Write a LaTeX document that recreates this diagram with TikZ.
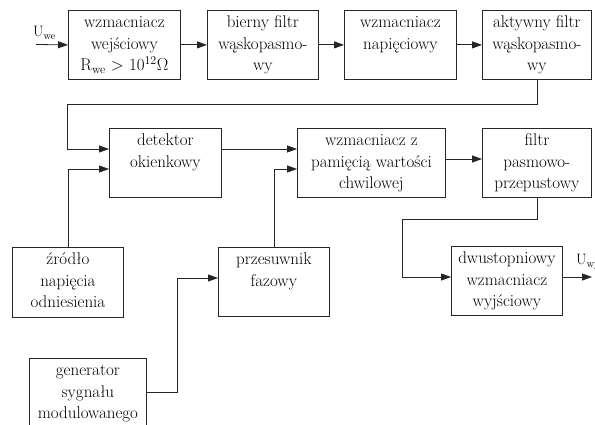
\documentclass[tikz,border=0pt]{standalone}
\usetikzlibrary{arrows.meta}
\begin{document}
\begin{tikzpicture}[x=1pt,y=-1pt,
  box/.style={draw=black!85, line width=0.8pt, anchor=north west, inner sep=0pt},
  txt/.style={anchor=north, align=center, inner xsep=0pt, inner ysep=2.5pt, font=\fontsize{17}{21.5}\selectfont},
  conn/.style={draw=black!85, line width=0.8pt},
  arr/.style={conn, -{Triangle[length=10pt,width=7pt]}},
  lab/.style={font=\fontsize{15}{15}\selectfont, inner sep=0pt, anchor=base west}]
\useasboundingbox (0,0) rectangle (595,425);

% boxes
\node[box, minimum width=112pt, minimum height=69pt] (b1) at (68,10) {};
\node[box, minimum width=111pt, minimum height=69pt] (b2) at (207,10) {};
\node[box, minimum width=112pt, minimum height=69pt] (b3) at (344,10) {};
\node[box, minimum width=109pt, minimum height=69pt] (b4) at (482,10) {};
\node[box, minimum width=112pt, minimum height=69pt] (b5) at (109,128) {};
\node[box, minimum width=148pt, minimum height=69pt] (b6) at (297,128) {};
\node[box, minimum width=109pt, minimum height=69pt] (b7) at (482,128) {};
\node[box, minimum width=111pt, minimum height=70pt] (b8) at (12,247) {};
\node[box, minimum width=111pt, minimum height=69pt] (b9) at (218,247) {};
\node[box, minimum width=111pt, minimum height=69pt] (b10) at (451,246) {};
\node[box, minimum width=117pt, minimum height=82pt] (b11) at (29,358) {};

% texts
\node[txt] (t1) at (b1.north) {\strut wzmacniacz\\wejściowy\\R\textsubscript{we} > 10\textsuperscript{12}$\Omega$};
\node[txt] (t2) at (b2.north) {\strut bierny filtr\\wąskopasmo-\\wy};
\node[txt] (t3) at (b3.north) {\strut wzmacniacz\\napięciowy};
\node[txt] (t4) at (b4.north) {\strut aktywny filtr\\wąskopasmo-\\wy};
\node[txt] (t5) at (b5.north) {\strut detektor\\okienkowy};
\node[txt] (t6) at (b6.north) {\strut wzmacniacz z\\pamięcią wartości\\chwilowej};
\node[txt] (t7) at (b7.north) {\strut filtr\\pasmowo-\\przepustowy};
\node[txt] (t8) at (b8.north) {\strut źródło\\napięcia\\odniesienia};
\node[txt] (t9) at (b9.north) {\strut przesuwnik\\fazowy};
\node[txt] (t10) at (b10.north) {\strut dwustopniowy\\wzmacniacz\\wyjściowy};
\node[txt] (t11) at (b11.north) {\strut generator\\sygnału\\modulowanego};

% labels
\node[lab] (lwe) at (33,37) {U\textsubscript{we}};
\node[lab] (lwy) at (576,265) {U\textsubscript{wy}};

% connection points
\coordinate (uin) at (36,44.5);
\coordinate (uout) at (592,277);
\path (b5.north west) ++(0,21) coordinate (b5i1);
\path (b5.north west) ++(0,41) coordinate (b5i2);
\path (b6.north west) ++(0,21) coordinate (b6i1);
\path (b6.north west) ++(0,41) coordinate (b6i2);
\path (b7.north west) ++(0,31) coordinate (b7i);
\path (b9.north west) ++(0,31) coordinate (b9i);
\path (b10.north west) ++(0,31) coordinate (b10i);
\path (b11.north east) ++(0,34) coordinate (b11o);
\coordinate (k1) at (67,104);
\coordinate (k2) at (402,219);
\coordinate (k4) at (177,278);

% connectors
\draw[arr] (uin) -- (b1.west);
\draw[arr] (b1.east) -- (b2.west);
\draw[arr] (b2.east) -- (b3.west);
\draw[arr] (b3.east) -- (b4.west);
\draw[arr] (b4.south) |- (k1) |- (b5i1);
\draw[arr] (b8.north) |- (b5i2);
\draw[arr] (b5.east |- b6i1) -- (b6i1);
\draw[arr] (b9.north) |- (b6i2);
\draw[arr] (b6.east |- b7i) -- (b7i);
\draw[arr] (b7.south) |- (k2) |- (b10i);
\draw[arr] (b10.east |- b10i) -- (uout);
\draw[arr] (b11o) -| (k4) -- (b9i);
\end{tikzpicture}
\end{document}
